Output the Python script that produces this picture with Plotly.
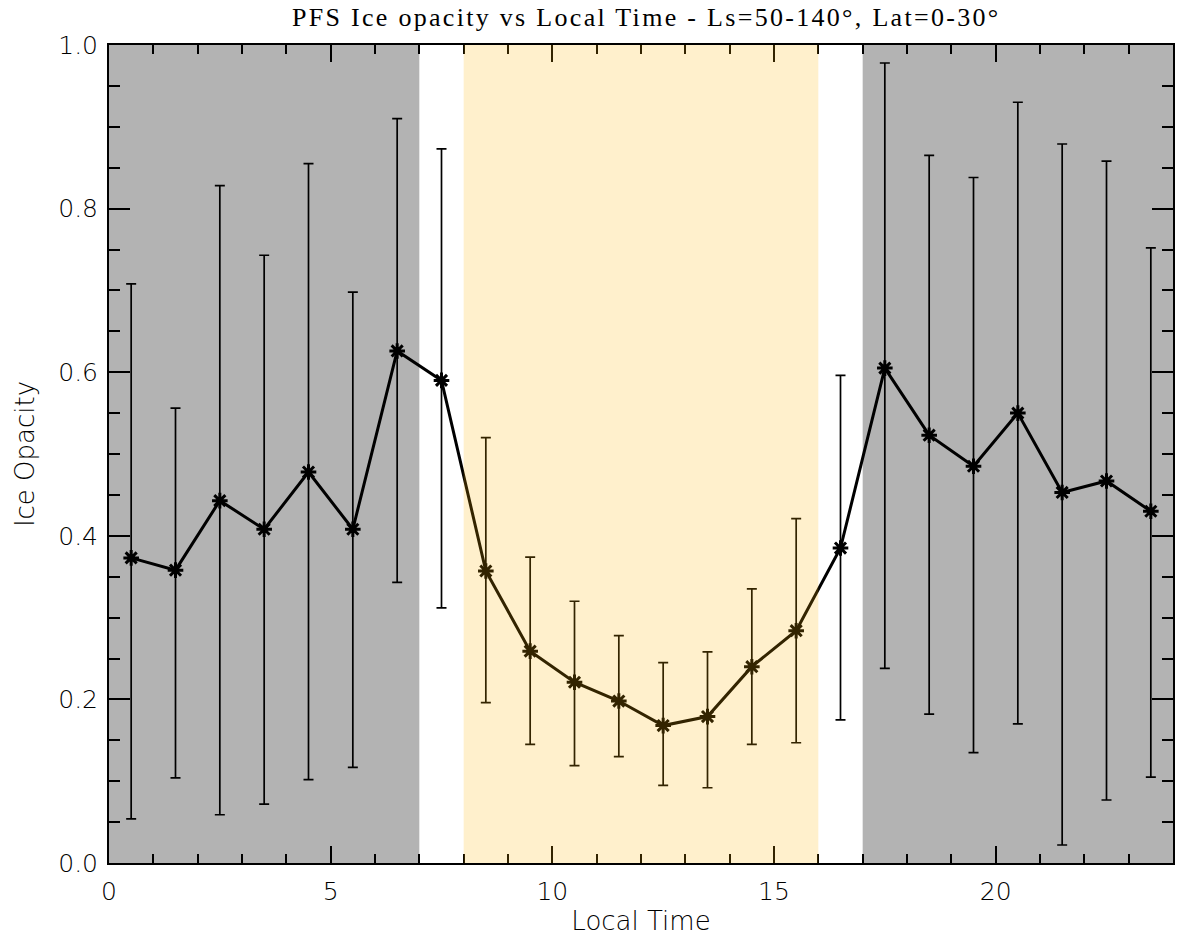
import plotly.graph_objects as go

# ---- data ----
local_time = [0.5, 1.5, 2.5, 3.5, 4.5, 5.5, 6.5, 7.5, 8.5, 9.5, 10.5, 11.5,
              12.5, 13.5, 14.5, 15.5, 16.5, 17.5, 18.5, 19.5, 20.5, 21.5, 22.5, 23.5]
opacity = [0.373, 0.358, 0.443, 0.408, 0.478, 0.408, 0.626, 0.590, 0.357, 0.259, 0.221, 0.198,
           0.168, 0.179, 0.240, 0.284, 0.385, 0.605, 0.523, 0.485, 0.550, 0.453, 0.467, 0.430]
err_top = [0.708, 0.556, 0.828, 0.743, 0.855, 0.698, 0.910, 0.873, 0.520, 0.374, 0.320, 0.278,
           0.245, 0.258, 0.335, 0.421, 0.596, 0.978, 0.865, 0.838, 0.930, 0.879, 0.858, 0.752]
err_bot = [0.054, 0.104, 0.059, 0.072, 0.102, 0.117, 0.343, 0.312, 0.196, 0.145, 0.119, 0.130,
           0.095, 0.092, 0.145, 0.147, 0.175, 0.238, 0.182, 0.135, 0.170, 0.022, 0.077, 0.105]
night_ranges = [(0, 7), (17, 24)]
day_range = (8, 16)

err_plus = [t - v for t, v in zip(err_top, opacity)]
err_minus = [v - b for v, b in zip(opacity, err_bot)]

TICKFONT = dict(family="DejaVu Sans", size=25, color="black", weight=300)
TITLEFONT = dict(family="DejaVu Sans", size=26, color="black", weight=300)

fig = go.Figure()
fig.add_trace(go.Scatter(
    x=local_time, y=opacity, mode="lines+markers",
    line=dict(color="black", width=3),
    marker=dict(symbol="asterisk-open", size=13, color="black",
                line=dict(color="black", width=3)),
    error_y=dict(type="data", symmetric=False, array=err_plus, arrayminus=err_minus,
                 color="black", thickness=1.7, width=5),
    showlegend=False, hoverinfo="x+y",
))

shapes = []
for x0, x1 in night_ranges:
    shapes.append(dict(type="rect", xref="x", yref="y", x0=x0, x1=x1, y0=0, y1=1,
                       fillcolor="#b3b3b3", line=dict(width=0), layer="below"))
shapes.append(dict(type="rect", xref="x", yref="y", x0=day_range[0], x1=day_range[1],
                   y0=0, y1=1, fillcolor="rgba(255,180,0,0.2)", line=dict(width=0),
                   layer="above"))

fig.update_layout(
    width=1177, height=940,
    margin=dict(l=109, r=2, t=45, b=77),
    paper_bgcolor="white", plot_bgcolor="white",
    shapes=shapes,
    title=dict(text="PFS Ice opacity vs Local Time - Ls=50-140°, Lat=0-30°",
               x=0.549, xanchor="center", y=0.992, yanchor="top",
               font=dict(family="Liberation Serif", size=26, color="black")),
)
fig.update_xaxes(
    range=[0, 24], dtick=5, tick0=0, ticks="inside", ticklen=17, tickwidth=1.5,
    tickcolor="black", showline=True, linecolor="black", linewidth=2, mirror="allticks",
    showgrid=False, zeroline=False, tickfont=TICKFONT, ticklabelstandoff=5,
    minor=dict(dtick=1, ticks="inside", ticklen=9, tickwidth=1.5, tickcolor="black", showgrid=False),
    title=dict(text="Local Time", font=TITLEFONT, standoff=7),
)
fig.update_yaxes(
    range=[0, 1], dtick=0.2, tick0=0, tickformat=".1f", ticks="inside", ticklen=21, tickwidth=1.5,
    tickcolor="black", showline=True, linecolor="black", linewidth=2, mirror="allticks",
    showgrid=False, zeroline=False, tickfont=TICKFONT, ticklabelstandoff=4,
    minor=dict(dtick=0.05, ticks="inside", ticklen=11, tickwidth=1.5, tickcolor="black", showgrid=False),
    title=dict(text="Ice Opacity", font=TITLEFONT, standoff=16),
)

post = """
document.body.style.margin = '0';
document.body.style.overflow = 'hidden';
var t = document.querySelector('.gtitle');
if (t) { t.style.letterSpacing = '2.3px'; }
"""
fig.write_html("out.html", post_script=post, config={"displayModeBar": False})
